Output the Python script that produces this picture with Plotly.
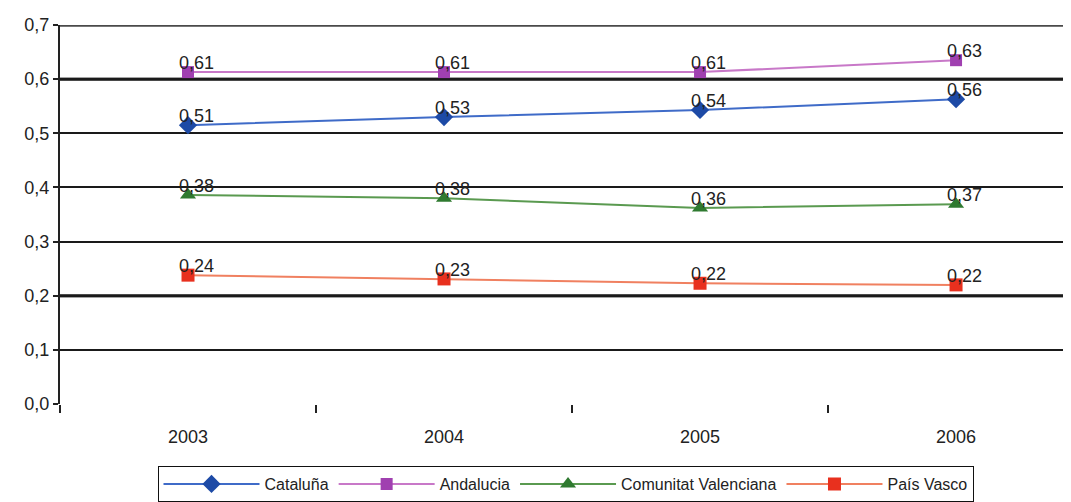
import plotly.graph_objects as go

years = ["2003", "2004", "2005", "2006"]
cataluna = [0.515, 0.530, 0.543, 0.563]
cataluna_lbl = ["0,51", "0,53", "0,54", "0,56"]
andalucia = [0.613, 0.613, 0.613, 0.635]
andalucia_lbl = ["0,61", "0,61", "0,61", "0,63"]
valenciana = [0.386, 0.380, 0.362, 0.369]
valenciana_lbl = ["0,38", "0,38", "0,36", "0,37"]
vasco = [0.238, 0.231, 0.223, 0.220]
vasco_lbl = ["0,24", "0,23", "0,22", "0,22"]

series = [
    ("Cataluña", cataluna, cataluna_lbl, "#3F6BC8", "#1D4AA6", "diamond", 14),
    ("Andalucia", andalucia, andalucia_lbl, "#C878C8", "#A040B0", "square", 12),
    ("Comunitat Valenciana", valenciana, valenciana_lbl, "#5A9A50", "#2F7A30", "triangle-up", 14),
    ("País Vasco", vasco, vasco_lbl, "#F08060", "#E8301E", "square", 13),
]

fig = go.Figure()
annotations = []
for name, vals, lbls, lc, mc, sym, sz in series:
    fig.add_trace(go.Scatter(
        x=years, y=vals, name=name, mode="lines+markers",
        line=dict(color=lc, width=2),
        marker=dict(color=mc, symbol=sym, size=sz, line=dict(width=0)),
    ))
    for i, (v, t) in enumerate(zip(vals, lbls)):
        annotations.append(dict(
            xref="x", yref="y", x=i, y=v, text=t, showarrow=False,
            xanchor="left", yanchor="bottom", xshift=-11, yshift=-3,
            font=dict(family="Liberation Sans, Arial", size=18, color="#222")))

shapes = []
for yv in [0.7, 0.6, 0.2]:
    shapes.append(dict(type="line", xref="paper", yref="y", x0=0, x1=1, y0=yv, y1=yv,
                       line=dict(color="#4a4a4a", width=3.5), layer="below"))

fig.update_layout(
    width=1063, height=494,
    margin=dict(l=52, r=0, t=17, b=98),
    paper_bgcolor="white", plot_bgcolor="white",
    separators=",.",
    font=dict(family="Liberation Sans, Arial", size=16, color="#222"),
    showlegend=True,
    legend=dict(orientation="h", x=0.5, xanchor="center", xref="paper",
                y=0.0, yanchor="bottom", yref="container",
                bordercolor="#111", borderwidth=1, font=dict(size=16),
                itemwidth=96, tracegroupgap=0),
    annotations=annotations,
    shapes=shapes,
    xaxis=dict(type="category", range=[-0.5, 3.449], showgrid=False,
               ticks="outside", tickson="boundaries", ticklen=8, tickwidth=2, tickcolor="#222",
               showline=False, tickfont=dict(size=18), zeroline=False,
               ticklabelstandoff=20),
    yaxis=dict(range=[0, 0.7], dtick=0.1, tickformat=".1f", showgrid=True,
               gridcolor="#1a1a1a", gridwidth=2, showline=True, linecolor="#222", linewidth=2,
               ticks="outside", ticklen=5, tickwidth=2, tickcolor="#222", zeroline=False,
               tickfont=dict(size=18)),
)

fig.write_html("out.html")
